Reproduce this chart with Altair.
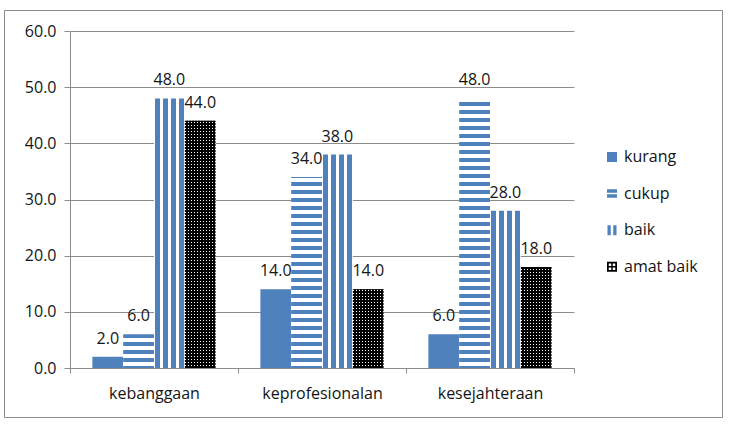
import altair as alt
import pandas as pd

# ---- data -------------------------------------------------------------
CATEGORIES = ["kebanggaan", "keprofesionalan", "kesejahteraan"]
SERIES = ["kurang", "cukup", "baik", "amat baik"]
KURANG = [2.0, 14.0, 6.0]
CUKUP = [6.0, 34.0, 48.0]
BAIK = [48.0, 38.0, 28.0]
AMAT_BAIK = [44.0, 14.0, 18.0]
Y_TICKS = [0, 10, 20, 30, 40, 50, 60]

VALUES = {"kurang": KURANG, "cukup": CUKUP, "baik": BAIK, "amat baik": AMAT_BAIK}
rows = [
    {"kategori": cat, "seri": s, "nilai": VALUES[s][i]}
    for i, cat in enumerate(CATEGORIES)
    for s in SERIES
]
df = pd.DataFrame(rows)

# ---- layout / style ---------------------------------------------------
W, H = 504, 337
Y_MAX = 60
PX_PER_UNIT = H / Y_MAX
OUTER_PAD = 0.727                      # xOffset outer padding (in steps)
BAR_W = (W / len(CATEGORIES)) / (len(SERIES) + 2 * OUTER_PAD)
BLUE = "#4F81BD"
WHITE = "#ffffff"
BLACK = "#000000"
CLEAR = "rgba(0,0,0,0)"
GREY = "#8c8c8c"
TEXT = "#141414"
FONT = "Open Sans"


def stripe_stops(length, period, on, phase, c_on, c_off, from_end=False):
    """Hard-edged gradient stops for stripes along `length` px.
    Distance d (measured from the far end when from_end) is c_on
    where (d + phase) % period < on."""
    pts = {0.0, float(length)}
    k = -2
    while k * period - phase <= length + period:
        for edge in (0.0, on):
            d = k * period + edge - phase
            if 0 < d < length:
                pts.add(d)
        k += 1
    pts = sorted(pts)
    segs = []
    for a, b in zip(pts[:-1], pts[1:]):
        mid = (a + b) / 2
        segs.append((a, b, c_on if ((mid + phase) % period) < on else c_off))
    stops = []
    seq = reversed(segs) if from_end else segs
    for a, b, c in seq:
        if from_end:
            ta, tb = 1 - b / length, 1 - a / length
        else:
            ta, tb = a / length, b / length
        stops.append({"offset": round(ta, 5), "color": c})
        stops.append({"offset": round(tb, 5), "color": c})
    return stops


def vgrad(stops):
    # gradient running top -> bottom (horizontal stripes)
    return {"gradient": "linear", "x1": 0, "x2": 0, "y1": 0, "y2": 1, "stops": stops}


def hgrad(stops):
    # gradient running left -> right (vertical stripes)
    return {"gradient": "linear", "x1": 0, "x2": 1, "y1": 0, "y2": 0, "stops": stops}


def per_category_fill(values, make):
    grads = [make(v * PX_PER_UNIT) for v in values]
    cond = [
        {"test": f"datum.kategori === '{cat}'", "value": g}
        for cat, g in zip(CATEGORIES[:-1], grads[:-1])
    ]
    return {"condition": cond, "value": grads[-1]}


# "cukup": horizontal blue/white stripes, phase tied to the baseline
cukup_fill = per_category_fill(
    CUKUP, lambda h: vgrad(stripe_stops(h, 8, 4, 2, BLUE, WHITE, from_end=True))
)

# "baik": four vertical blue stripes
baik_segments = [(1.2, WHITE), (4.5, BLUE), (3.5, WHITE), (4.5, BLUE), (3.5, WHITE),
                 (4.5, BLUE), (3.5, WHITE), (4.5, BLUE)]
used = sum(s for s, _ in baik_segments)
baik_segments.append((max(BAR_W - used, 0.01), WHITE))
tot = sum(s for s, _ in baik_segments)
baik_stops, acc = [], 0.0
for size, col in baik_segments:
    baik_stops.append({"offset": round(acc / tot, 5), "color": col})
    acc += size
    baik_stops.append({"offset": round(acc / tot, 5), "color": col})
baik_fill = hgrad(baik_stops)

# "amat baik": dotted texture = white/black columns under black/clear rows
amat_cols = hgrad(stripe_stops(BAR_W, 3, 1.4, 0, WHITE, BLACK))
amat_rows = per_category_fill(
    AMAT_BAIK, lambda h: vgrad(stripe_stops(h, 3, 1.6, 0, BLACK, CLEAR, from_end=True))
)

# legend glyphs (unit square paths)
SQUARE = "M-1,-1H1V1H-1Z"
EQUALS = "M-1,-0.85H1V-0.15H-1Z M-1,0.15H1V0.85H-1Z"
BARS = "M-0.9,-1H-0.25V1H-0.9Z M0.25,-1H0.9V1H0.25Z"
CHECK = ("M-1,-1H1V1H-1Z "
         "M-0.65,-0.65V-0.15H-0.15V-0.65Z M0.15,-0.65V-0.15H0.65V-0.65Z "
         "M-0.65,0.15V0.65H-0.15V0.15Z M0.15,0.15V0.65H0.65V0.15Z")

# ---- chart ------------------------------------------------------------
base = alt.Chart(df).encode(
    x=alt.X(
        "kategori:N",
        sort=CATEGORIES,
        scale=alt.Scale(domain=CATEGORIES, paddingInner=0, paddingOuter=0),
        axis=alt.Axis(
            title=None, labelAngle=0, tickBand="extent", tickSize=5,
            labelPadding=12, domainColor=GREY, tickColor=GREY,
            labelFont=FONT, labelFontSize=16, labelColor=TEXT,
        ),
    ),
    xOffset=alt.XOffset(
        "seri:N",
        scale=alt.Scale(domain=SERIES, paddingInner=0, paddingOuter=OUTER_PAD),
    ),
    y=alt.Y(
        "nilai:Q",
        scale=alt.Scale(domain=[0, Y_MAX], nice=False),
        axis=alt.Axis(
            title=None, values=Y_TICKS, format=".1f", grid=True,
            gridColor=GREY, domainColor=GREY, tickColor=GREY, tickSize=6,
            labelPadding=8, labelFont=FONT, labelFontSize=16, labelColor=TEXT,
        ),
    ),
)

bars_kurang = base.mark_bar().transform_filter(alt.datum.seri == "kurang").encode(
    fill=alt.value(BLUE)
)
bars_cukup = base.mark_bar().transform_filter(alt.datum.seri == "cukup").encode(
    fill=cukup_fill
)
bars_baik = base.mark_bar().transform_filter(alt.datum.seri == "baik").encode(
    fill=alt.value(baik_fill)
)
bars_amat_cols = base.mark_bar().transform_filter(alt.datum.seri == "amat baik").encode(
    fill=alt.value(amat_cols)
)
bars_amat_rows = base.mark_bar().transform_filter(alt.datum.seri == "amat baik").encode(
    fill=amat_rows
)

labels = base.mark_text(
    baseline="alphabetic", dy=-13, font=FONT, fontSize=16, color=TEXT
).encode(text=alt.Text("nilai:Q", format=".1f"))

legend_def = alt.Legend(
    title=None, orient="none", legendX=534, legendY=118, padding=0,
    labelFont=FONT, labelFontSize=16, labelColor=TEXT, labelOffset=4,
    symbolSize=100, symbolOpacity=1, symbolStrokeWidth=0, rowPadding=20.6,
)
legend_layer = base.mark_point(filled=True, opacity=0).encode(
    color=alt.Color(
        "seri:N",
        scale=alt.Scale(domain=SERIES, range=[BLUE, BLUE, BLUE, BLACK]),
        legend=legend_def,
    ),
    shape=alt.Shape(
        "seri:N",
        scale=alt.Scale(domain=SERIES, range=[SQUARE, EQUALS, BARS, CHECK]),
        legend=legend_def,
    ),
)

frame = alt.Chart(pd.DataFrame({"bingkai": [0]})).mark_rect(
    fillOpacity=0, stroke=GREY, strokeWidth=1
).encode(
    x=alt.value(-65.5), x2=alt.value(652.5), y=alt.value(-20.5), y2=alt.value(386.5)
)

chart = alt.layer(
    frame, bars_kurang, bars_cukup, bars_baik, bars_amat_cols, bars_amat_rows,
    labels, legend_layer,
).properties(
    width=W,
    height=H,
    autosize=alt.AutoSizeParams(type="none"),
    padding={"left": 70, "top": 31, "right": 155, "bottom": 56},
    background="white",
).configure_view(stroke=None)

chart.save("out.html", embed_options={"renderer": "svg", "actions": False})
